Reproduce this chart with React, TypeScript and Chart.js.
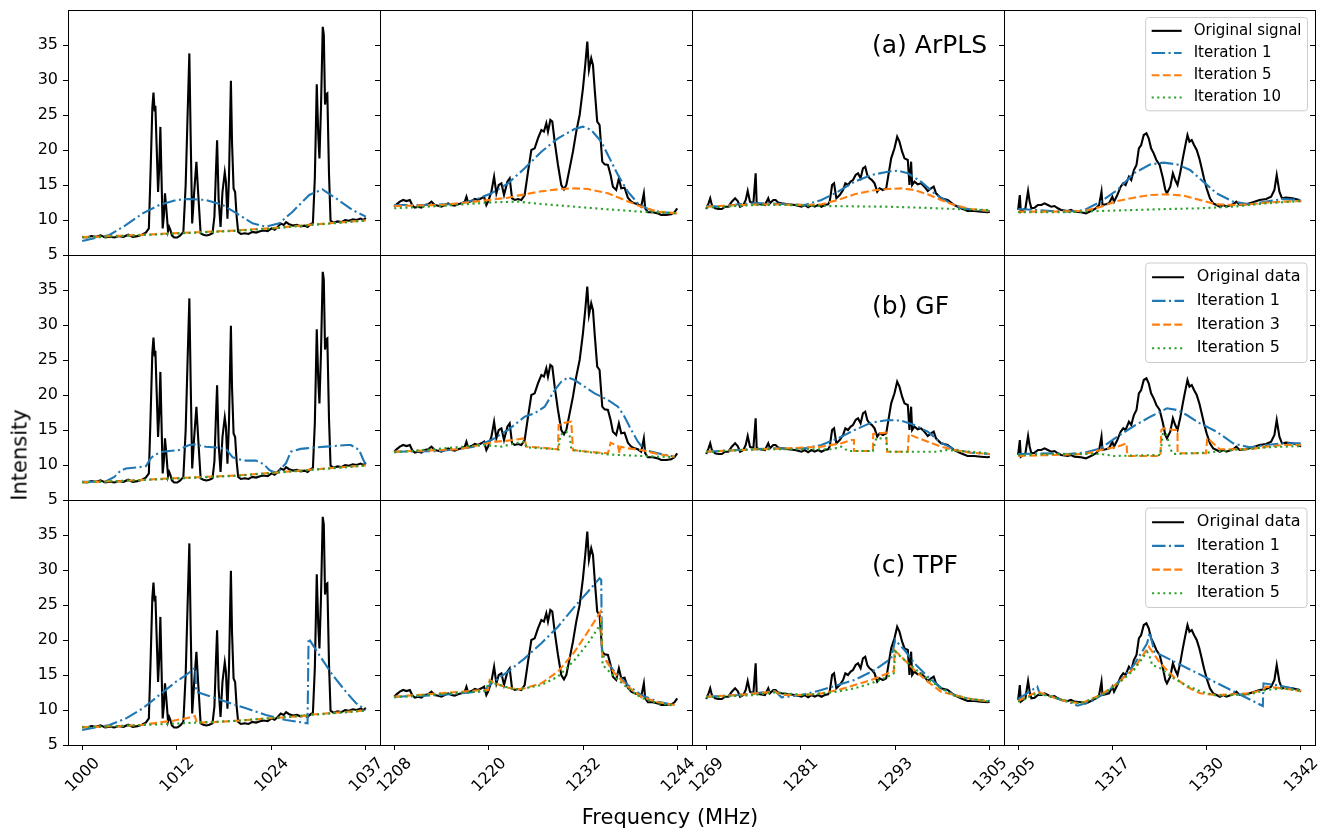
import React, { useEffect, useRef } from "react";
import { Chart, registerables } from "chart.js";

Chart.register(...registerables);

const FONT = '"DejaVu Sans", "Liberation Sans", sans-serif';

// ---------------- Original spectrum (same in every row) ----------------
const sig1F = [1000.0,1000.6,1001.2,1001.8,1002.4,1003.0,1003.6,1004.2,1004.8,1005.4,1006.0,1006.6,1007.2,1007.8,1008.3,1008.7,1008.95,1009.15,1009.3,1009.45,1009.55,1009.7,1009.9,1010.05,1010.2,1010.35,1010.5,1010.65,1010.8,1010.95,1011.2,1011.35,1011.5,1011.7,1012.0,1012.4,1012.8,1013.2,1013.5,1013.75,1013.98,1014.15,1014.35,1014.6,1014.9,1015.15,1015.45,1015.8,1016.2,1016.6,1017.0,1017.25,1017.45,1017.6,1017.8,1018.05,1018.3,1018.6,1018.75,1018.95,1019.15,1019.4,1019.55,1019.75,1019.95,1020.15,1020.35,1020.7,1021.2,1021.7,1022.2,1022.7,1023.2,1023.7,1024.2,1024.7,1025.1,1025.5,1025.9,1026.3,1026.6,1027.0,1027.5,1028.0,1028.5,1029.0,1029.4,1029.8,1030.1,1030.35,1030.6,1030.8,1030.95,1031.15,1031.38,1031.52,1031.68,1031.85,1031.98,1032.2,1032.4,1032.8,1033.3,1033.8,1034.3,1034.8,1035.3,1035.8,1036.3,1036.7,1037.0];
const sig1Y = [7.6,7.5,7.7,7.6,7.8,7.5,7.6,7.5,7.7,7.6,7.9,7.6,7.7,7.9,8.2,8.8,18.0,26.0,28.2,25.5,26.3,21.0,14.0,17.5,23.3,16.0,8.8,10.5,13.8,12.0,8.4,9.0,8.6,7.8,7.5,7.5,7.8,8.3,15.0,25.0,33.8,22.0,9.5,13.8,18.3,13.5,8.1,7.9,7.8,7.9,8.1,10.5,17.0,21.4,13.0,9.0,14.0,16.8,15.5,10.2,16.0,29.9,21.0,14.5,14.0,10.5,8.3,8.0,8.1,8.0,8.3,8.2,8.4,8.5,8.4,8.8,8.6,9.0,9.5,9.3,9.7,9.4,9.2,9.3,9.1,9.2,9.0,9.4,9.6,16.0,29.4,22.0,18.8,26.0,37.6,36.5,26.5,28.0,28.1,16.5,9.9,9.6,9.8,9.7,10.0,9.9,10.1,10.0,10.2,10.0,10.3];

const sig2F = [1208.0,1208.3,1208.72,1209.14,1209.56,1209.99,1210.28,1210.62,1211.04,1211.46,1211.89,1212.31,1212.73,1213.15,1213.58,1214.0,1214.42,1214.85,1215.27,1215.69,1216.11,1216.54,1216.96,1217.17,1217.38,1217.8,1218.23,1218.65,1219.07,1219.41,1219.7,1219.92,1220.34,1220.68,1220.97,1221.27,1221.61,1221.94,1222.37,1222.66,1222.96,1223.3,1223.72,1224.14,1224.56,1224.99,1225.41,1225.83,1226.25,1226.68,1227.01,1227.31,1227.52,1227.82,1228.07,1228.37,1228.79,1229.21,1229.55,1229.85,1230.27,1230.69,1231.11,1231.54,1231.96,1232.25,1232.51,1232.72,1233.01,1233.23,1233.44,1233.77,1234.07,1234.41,1234.71,1235.13,1235.47,1235.76,1236.18,1236.52,1236.82,1237.24,1237.66,1238.09,1238.51,1238.93,1239.35,1239.69,1239.86,1240.2,1240.83,1241.47,1241.89,1242.52,1243.16,1243.58,1243.92];
const sig2Y = [11.9,12.24,12.62,12.86,12.71,12.86,12.14,11.76,11.9,11.76,12.14,12.24,12.62,12.14,12.05,11.9,12.14,12.38,12.14,12.05,12.24,12.38,12.62,13.33,12.52,12.71,13.0,12.86,13.1,13.33,12.14,12.62,14.05,16.19,13.81,15.0,15.24,13.57,15.48,15.95,13.1,12.86,13.0,12.86,13.57,16.9,20.0,20.24,21.67,22.86,22.62,23.81,22.62,24.29,24.05,21.19,17.86,15.0,14.38,15.0,17.38,19.76,22.62,25.0,28.81,32.14,35.48,31.43,33.1,32.14,28.81,24.05,23.57,18.33,17.95,17.86,16.43,14.76,14.29,15.95,14.52,14.62,13.19,12.62,12.38,12.24,11.9,13.81,11.67,11.1,11.1,10.95,10.71,10.71,10.81,11.1,11.67];

const sig3F = [1269.0,1269.3,1269.51,1269.72,1270.14,1270.56,1270.98,1271.4,1271.82,1272.25,1272.67,1273.0,1273.3,1273.72,1274.02,1274.27,1274.56,1274.99,1275.28,1275.41,1275.83,1276.46,1276.88,1277.09,1277.52,1277.81,1278.15,1278.57,1279.41,1280.26,1281.1,1281.52,1281.94,1282.36,1282.78,1283.21,1283.63,1284.05,1284.47,1284.68,1284.98,1285.23,1285.52,1285.95,1286.37,1286.66,1287.0,1287.34,1287.63,1287.97,1288.27,1288.6,1288.9,1289.19,1289.45,1289.74,1290.04,1290.37,1290.71,1291.01,1291.43,1291.85,1292.06,1292.48,1292.9,1293.24,1293.53,1293.87,1294.17,1294.59,1294.8,1295.01,1295.14,1295.43,1295.85,1296.27,1296.7,1297.12,1297.54,1297.88,1298.17,1298.8,1299.65,1300.49,1301.33,1302.18,1303.02,1303.86,1304.71,1305.0];
const sig3Y = [11.57,12.38,13.1,12.14,11.67,11.57,11.57,11.9,11.9,12.62,13.1,12.71,11.9,12.14,12.86,14.14,12.62,12.38,16.67,12.38,12.24,12.14,13.1,12.38,12.86,12.86,12.48,12.38,12.24,12.14,11.9,12.14,11.81,12.14,11.9,12.14,11.9,12.14,12.24,12.62,15.0,15.24,13.1,13.57,14.29,15.24,15.0,15.48,15.71,16.43,16.67,15.95,17.38,17.62,16.43,15.95,15.71,15.24,14.05,14.52,14.29,14.52,15.95,18.81,20.24,21.9,21.19,19.76,18.81,18.57,15.0,18.33,15.0,15.48,15.1,15.24,14.76,14.14,14.52,14.76,13.81,13.1,12.86,12.14,11.67,11.29,11.29,11.19,11.1,11.19];

const sig4F = [1305.0,1305.22,1305.35,1305.65,1305.95,1306.3,1306.51,1306.73,1307.16,1307.6,1308.03,1308.46,1308.89,1309.33,1309.76,1310.19,1310.63,1311.49,1311.92,1312.36,1313.22,1313.87,1314.52,1315.17,1315.6,1315.91,1316.04,1316.47,1316.9,1317.33,1317.55,1317.98,1318.42,1318.76,1319.06,1319.5,1319.8,1320.15,1320.49,1320.8,1321.1,1321.44,1321.79,1322.09,1322.4,1322.74,1323.09,1323.52,1323.95,1324.26,1324.47,1324.91,1325.25,1325.56,1325.86,1326.2,1326.55,1326.85,1327.16,1327.42,1327.72,1328.02,1328.37,1328.71,1329.02,1329.32,1329.67,1330.1,1330.53,1330.97,1331.4,1331.83,1332.26,1333.13,1333.56,1333.99,1334.86,1335.73,1336.59,1337.46,1338.11,1338.54,1338.84,1339.19,1339.53,1340.05,1340.92,1341.78,1342.0];
const sig4Y = [11.43,13.57,11.19,11.43,11.67,14.14,12.62,11.67,11.76,12.14,12.14,12.38,12.14,11.9,12.0,11.67,11.43,11.29,11.43,11.19,11.1,10.95,11.29,11.67,12.14,14.05,12.14,12.24,12.38,13.33,12.62,13.57,14.76,15.24,15.0,16.19,15.71,17.14,17.86,20.24,20.71,22.14,22.38,21.67,20.24,19.52,18.57,17.86,15.95,14.29,13.81,14.76,16.67,15.71,15.0,16.67,18.81,20.48,22.14,21.19,21.43,20.71,20.0,18.81,17.38,15.95,14.52,13.1,12.38,12.14,11.9,12.14,11.9,12.24,12.62,12.14,12.24,12.52,12.86,13.0,13.33,14.29,16.43,14.05,13.1,13.19,13.1,12.86,12.62];

// ---------------- Baselines: [frequency, intensity] ----------------
// (a) ArPLS
const arplsC1It1 = [[1000,7.0],[1003.56,7.86],[1005.73,9.29],[1007.9,10.95],[1010.07,12.14],[1012.25,12.86],[1013.98,13.0],[1016.15,12.86],[1018.33,12.14],[1020.5,10.71],[1022.23,9.52],[1023.97,9.05],[1025.71,9.52],[1027.45,11.19],[1029.62,13.57],[1031.35,14.38],[1033.09,13.1],[1035.26,11.43],[1037,10.48]];
const arplsC1It5 = [[1000,7.55],[1005,7.75],[1010,8.0],[1015,8.25],[1020,8.5],[1025,8.85],[1030,9.35],[1033,9.6],[1037,9.95]];
const arplsC1It10 = [[1000,7.5],[1005,7.7],[1010,7.95],[1015,8.2],[1020,8.45],[1025,8.8],[1030,9.3],[1033,9.55],[1037,9.9]];
const arplsC2It1 = [[1208,12.14],[1211.89,12.14],[1216.11,12.29],[1218.23,12.86],[1220.34,13.81],[1222.45,15.24],[1224.56,17.38],[1226.68,19.76],[1228.79,21.67],[1230.9,23.0],[1231.96,23.33],[1233.01,22.86],[1234.28,21.19],[1235.13,19.29],[1236.4,16.43],[1237.66,14.05],[1238.93,12.38],[1240.2,11.57],[1241.89,11.1],[1243.92,10.95]];
const arplsC2It5 = [[1208,12.0],[1214,12.14],[1218.23,12.62],[1222.45,13.19],[1224.56,13.67],[1226.68,14.1],[1229.21,14.43],[1230.9,14.52],[1232.59,14.43],[1235.13,13.81],[1237.24,12.86],[1239.35,11.9],[1241.47,11.19],[1243.92,10.95]];
const arplsC2It10 = [[1208,11.67],[1214,12.0],[1220.34,12.52],[1223.72,12.62],[1226.68,12.29],[1230.9,11.9],[1235.13,11.52],[1239.35,11.19],[1243.92,10.95]];
const arplsC3It1 = [[1269,12.0],[1270.98,11.9],[1273.09,12.24],[1275.2,12.38],[1277.3,12.38],[1279.41,12.24],[1281.52,12.14],[1283.63,12.86],[1285.74,14.05],[1287.84,15.48],[1289.95,16.43],[1292.06,16.9],[1293.32,17.05],[1294.59,16.67],[1296.27,15.48],[1297.96,13.81],[1299.65,12.62],[1301.33,11.76],[1303.02,11.43],[1305,11.29]];
const arplsC3It5 = [[1269,11.9],[1273.09,12.14],[1277.3,12.24],[1281.52,12.14],[1283.63,12.24],[1285.74,12.86],[1287.84,13.67],[1289.95,14.19],[1292.06,14.43],[1293.75,14.52],[1295.43,14.29],[1297.12,13.67],[1298.8,12.86],[1300.49,12.14],[1302.6,11.57],[1305,11.29]];
const arplsC3It10 = [[1269,11.76],[1275.2,12.14],[1279.41,12.14],[1283.63,12.0],[1287.84,11.95],[1292.06,11.9],[1296.27,11.76],[1300.49,11.57],[1305,11.43]];
const arplsC4It1 = [[1305,11.57],[1307.16,11.43],[1309.33,11.29],[1311.49,11.19],[1313.66,11.43],[1315.82,12.62],[1317.98,14.29],[1320.15,16.67],[1322.31,17.95],[1324.04,18.19],[1325.77,17.95],[1327.5,17.14],[1329.23,15.48],[1330.97,13.81],[1333.13,12.62],[1335.29,12.24],[1337.46,12.62],[1339.62,13.0],[1342,12.86]];
const arplsC4It5 = [[1305,11.19],[1309.33,11.19],[1313.66,11.29],[1315.82,11.9],[1317.98,12.71],[1320.15,13.19],[1322.31,13.57],[1324.47,13.67],[1326.64,13.48],[1328.8,12.86],[1330.97,12.24],[1333.13,12.14],[1335.29,12.24],[1337.46,12.48],[1339.62,12.62],[1342,12.71]];
const arplsC4It10 = [[1305,11.1],[1311.49,11.1],[1315.82,11.29],[1320.15,11.43],[1324.47,11.57],[1328.8,11.67],[1333.13,11.9],[1337.46,12.38],[1342,12.71]];

// (b) GF
const gfC1It1 = [[1000,7.6],[1003.0,7.6],[1004.2,8.3],[1005.0,9.2],[1005.7,9.5],[1007.5,9.7],[1008.34,9.86],[1008.9,10.9],[1009.42,11.43],[1010.5,11.9],[1011.38,12.0],[1012.68,12.14],[1013.4,12.6],[1013.98,12.86],[1014.63,12.95],[1016.15,12.6],[1017.5,12.5],[1018.33,12.38],[1018.76,12.3],[1019.63,11.1],[1020.5,10.8],[1021.37,10.62],[1022.67,10.62],[1023.7,10.1],[1024.4,9.3],[1024.84,9.05],[1025.5,8.9],[1026.2,9.8],[1026.58,10.24],[1027.23,11.9],[1028.5,12.3],[1029.18,12.38],[1031.79,12.62],[1034.6,12.86],[1035.05,12.86],[1036.13,12.14],[1036.78,10.48],[1037,10.2]];
const gfC1It3 = [[1000,7.55],[1005,7.7],[1010,8.0],[1012,8.1],[1015,8.25],[1020,8.5],[1025,8.9],[1030,9.35],[1037,9.95]];
const gfC1It5 = [[1000,7.5],[1010,7.95],[1020,8.45],[1030,9.3],[1037,9.9]];
const gfC2It1 = [[1208,11.9],[1214,12.0],[1218.23,12.62],[1220.34,13.57],[1222.45,15.0],[1224.56,16.9],[1225.83,17.38],[1227.1,18.33],[1228.37,20.71],[1229.21,21.9],[1230.06,22.52],[1230.9,22.14],[1232.17,21.19],[1233.44,20.24],[1235.13,19.29],[1236.4,18.33],[1237.24,16.9],[1238.09,15.0],[1238.93,13.33],[1239.78,12.14],[1241.47,11.67],[1243.58,11.19]];
const gfC2It3 = [[1208,11.9],[1216.11,12.24],[1219.49,13.0],[1220.76,13.33],[1222.45,13.48],[1224.56,13.81],[1224.77,12.62],[1226.68,12.48],[1228.79,12.24],[1228.87,15.71],[1229.63,16.05],[1230.48,16.19],[1230.69,12.14],[1232.59,11.9],[1235.13,11.67],[1235.47,13.19],[1236.4,12.71],[1236.61,11.67],[1236.73,12.62],[1237.66,12.38],[1239.35,12.14],[1241.47,11.57],[1243.58,11.19]];
const gfC2It5 = [[1208,11.81],[1219.49,12.86],[1221.61,12.62],[1223.72,13.19],[1224.56,13.33],[1224.77,12.52],[1228.87,12.24],[1229.08,14.29],[1229.85,14.76],[1230.27,14.29],[1230.48,12.14],[1235.13,11.52],[1236.61,11.43],[1239.35,11.29],[1243.58,11.1]];
const gfC3It1 = [[1269,11.9],[1273.09,12.14],[1277.3,12.38],[1281.52,12.38],[1283.63,12.86],[1285.74,13.81],[1287.84,15.0],[1289.95,16.05],[1292.06,16.43],[1293.75,16.33],[1295.43,15.71],[1297.12,14.76],[1298.8,13.19],[1300.49,12.24],[1302.6,11.76],[1305,11.57]];
const gfC3It3 = [[1269,11.9],[1275.2,12.24],[1279.41,12.38],[1283.63,12.62],[1286.16,13.1],[1287.42,13.57],[1287.76,13.57],[1287.76,12.0],[1290.16,12.0],[1290.2,14.43],[1291.85,14.62],[1291.97,11.9],[1294.59,11.9],[1294.71,14.43],[1295.43,14.05],[1297.12,13.33],[1298.8,12.62],[1300.49,12.14],[1302.6,11.76],[1305,11.57]];
const gfC3It5 = [[1269,11.9],[1275.2,12.24],[1281.52,12.24],[1284.89,12.24],[1286.16,12.62],[1287.0,12.0],[1290.16,12.0],[1290.58,13.81],[1291.85,13.81],[1291.97,11.9],[1298.38,11.9],[1299.44,12.14],[1302.6,11.9],[1305,11.67]];
const gfC4It1 = [[1305,11.57],[1309.33,11.67],[1311.49,11.57],[1313.66,11.76],[1315.82,12.38],[1317.98,14.05],[1320.15,15.57],[1322.31,16.9],[1324.47,18.1],[1325.77,17.86],[1327.07,17.14],[1328.8,15.95],[1330.97,14.76],[1333.13,13.1],[1335.29,12.52],[1337.46,12.86],[1339.62,13.1],[1342,13.1]];
const gfC4It3 = [[1305,11.29],[1309.33,11.43],[1313.66,11.57],[1315.82,12.14],[1317.98,12.62],[1319.19,13.1],[1319.28,11.29],[1323.61,11.29],[1323.74,15.0],[1324.04,15.24],[1325.34,15.0],[1325.86,15.0],[1325.86,11.67],[1329.58,11.67],[1329.75,13.86],[1331.4,12.24],[1333.13,12.24],[1335.29,12.24],[1337.46,12.62],[1339.62,12.86],[1342,12.86]];
const gfC4It5 = [[1305,11.43],[1309.33,11.57],[1315.82,11.57],[1317.55,11.29],[1323.61,11.43],[1323.95,14.62],[1324.47,14.29],[1324.91,12.24],[1325.34,11.57],[1329.67,11.76],[1333.13,12.14],[1337.46,12.52],[1342,12.71]];

// (c) TPF
const tpfC1It1 = [[1000,7.14],[1003.56,7.86],[1005.73,8.81],[1007.9,10.24],[1010.07,12.14],[1012.25,14.05],[1013.55,15.0],[1014.77,16.05],[1014.85,12.62],[1016.15,12.14],[1018.76,11.19],[1021.37,10.24],[1023.97,9.29],[1026.58,8.57],[1029.4,8.1],[1029.53,20.24],[1030.92,17.86],[1032.66,15.0],[1034.39,12.62],[1035.7,11.0],[1037,10.0]];
const tpfC1It3 = [[1000,7.55],[1005,7.7],[1008,7.9],[1010,8.2],[1012,8.5],[1013.5,8.8],[1014.7,9.14],[1014.95,8.2],[1017,8.25],[1020,8.45],[1025,8.85],[1029.4,9.2],[1030,9.35],[1037,9.95]];
const tpfC1It5 = [[1000,7.5],[1010,7.95],[1020,8.45],[1030,9.3],[1037,9.9]];
const tpfC2It1 = [[1208,11.9],[1214,12.14],[1219.49,12.71],[1219.92,13.33],[1220.34,13.81],[1222.45,15.48],[1224.56,17.38],[1226.68,19.52],[1228.79,21.9],[1230.9,24.76],[1232.59,26.9],[1234.07,28.81],[1234.28,28.57],[1234.37,18.33],[1234.7,17.38],[1235.97,15.48],[1237.66,13.57],[1239.35,12.14],[1241.47,11.19],[1243.58,10.71]];
const tpfC2It3 = [[1208,11.9],[1219.49,12.86],[1219.92,12.86],[1220.13,14.29],[1220.76,13.81],[1222.45,13.19],[1223.72,12.95],[1224.56,13.1],[1226.68,13.81],[1228.79,15.48],[1230.9,18.33],[1232.59,21.19],[1234.2,24.05],[1234.41,17.86],[1235.97,15.24],[1237.66,13.33],[1239.35,11.9],[1241.47,11.1],[1243.58,10.71]];
const tpfC2It5 = [[1208,11.81],[1219.49,12.71],[1220.13,14.05],[1221.61,13.48],[1223.3,12.95],[1224.99,13.19],[1226.68,13.57],[1228.79,14.76],[1230.9,17.14],[1232.59,19.52],[1234.28,22.38],[1234.45,16.43],[1235.97,14.76],[1237.66,13.1],[1239.35,11.76],[1241.47,10.95],[1243.58,10.62]];
const tpfC3It1 = [[1269,11.9],[1273.09,12.14],[1277.73,12.71],[1278.57,11.81],[1281.1,12.14],[1283.63,12.86],[1287.84,14.29],[1290.37,15.71],[1292.48,17.38],[1292.99,20.0],[1294.17,18.57],[1295.43,16.67],[1297.12,14.76],[1298.8,13.19],[1300.49,12.14],[1302.6,11.52],[1305,11.29]];
const tpfC3It3 = [[1269,11.9],[1273.09,12.14],[1277.73,12.62],[1278.57,12.14],[1281.52,12.14],[1283.63,12.38],[1285.74,12.86],[1287.84,13.57],[1289.95,14.29],[1292.06,15.24],[1292.82,15.57],[1292.9,18.57],[1294.17,17.14],[1295.43,15.71],[1297.12,14.05],[1298.8,12.62],[1300.49,12.14],[1302.6,11.57],[1305,11.19]];
const tpfC3It5 = [[1269,11.81],[1275.2,12.14],[1277.73,12.52],[1281.52,12.14],[1285.74,12.62],[1287.84,13.1],[1289.95,13.81],[1292.06,14.76],[1292.82,15.24],[1292.99,18.33],[1294.17,17.14],[1295.43,15.95],[1297.12,14.43],[1298.8,13.1],[1300.49,12.05],[1302.6,11.57],[1305,11.19]];
const tpfC4It1 = [[1305,11.57],[1307.51,13.33],[1307.81,12.38],[1309.33,11.9],[1311.49,11.19],[1312.79,10.62],[1314.52,11.19],[1316.68,12.62],[1318.42,14.29],[1320.15,16.43],[1321.88,19.52],[1322.22,21.1],[1322.83,18.33],[1337.02,10.57],[1337.11,13.81],[1338.75,13.57],[1340.48,13.19],[1342,12.86]];
const tpfC4It3 = [[1305,11.29],[1307.51,12.62],[1309.33,11.9],[1311.49,11.19],[1313.22,10.95],[1315.82,12.14],[1317.98,13.81],[1320.15,15.95],[1322.09,19.05],[1323.61,16.67],[1325.34,14.76],[1327.07,13.33],[1328.8,12.38],[1330.97,12.14],[1333.13,12.24],[1335.29,12.38],[1337.02,12.86],[1337.46,13.33],[1339.62,13.1],[1342,12.71]];
const tpfC4It5 = [[1305,11.19],[1307.51,12.38],[1309.33,11.9],[1311.49,11.19],[1313.22,10.95],[1315.82,12.05],[1317.98,13.67],[1320.15,15.71],[1321.88,18.33],[1322.31,17.38],[1322.53,16.43],[1323.61,15.95],[1325.34,14.52],[1327.07,13.48],[1328.8,12.71],[1330.97,12.05],[1335.29,12.24],[1337.46,12.86],[1339.62,13.1],[1342,12.71]];

// ---------------- Ticks / labels ----------------
const yTickValues = [5, 10, 15, 20, 25, 30, 35];
const xDataRanges = [[1000, 1037], [1208, 1244], [1269, 1305], [1305, 1342]];
const xTickValues = [
  [1000, 1012.333, 1024.667, 1037],
  [1208, 1220, 1232, 1244],
  [1269, 1281, 1293, 1305],
  [1305, 1317.333, 1329.667, 1342],
];
const xTickLabels = [
  ["1000", "1012", "1024", "1037"],
  ["1208", "1220", "1232", "1244"],
  ["1269", "1281", "1293", "1305"],
  ["1305", "1317", "1330", "1342"],
];
const methodNames = ["(a) ArPLS", "(b) GF", "(c) TPF"];
const legendLabels = [
  ["Original signal", "Iteration 1", "Iteration 5", "Iteration 10"],
  ["Original data", "Iteration 1", "Iteration 3", "Iteration 5"],
  ["Original data", "Iteration 1", "Iteration 3", "Iteration 5"],
];

const sigF = [sig1F, sig2F, sig3F, sig4F];
const sigY = [sig1Y, sig2Y, sig3Y, sig4Y];
const baselines = [
  [[arplsC1It1, arplsC1It5, arplsC1It10], [arplsC2It1, arplsC2It5, arplsC2It10], [arplsC3It1, arplsC3It5, arplsC3It10], [arplsC4It1, arplsC4It5, arplsC4It10]],
  [[gfC1It1, gfC1It3, gfC1It5], [gfC2It1, gfC2It3, gfC2It5], [gfC3It1, gfC3It3, gfC3It5], [gfC4It1, gfC4It3, gfC4It5]],
  [[tpfC1It1, tpfC1It3, tpfC1It5], [tpfC2It1, tpfC2It3, tpfC2It5], [tpfC3It1, tpfC3It3, tpfC3It5], [tpfC4It1, tpfC4It3, tpfC4It5]],
];

// ---------------- Layout & style ----------------
const colLeft = [68, 380, 692, 1004];
const colRight = [380, 692, 1004, 1315];
const rowTop = [10, 255, 500];
const rowBottom = [255, 500, 745];
const PAD_L = 60, PAD_R = 5, PAD_T = 5, PAD_B = 70;
const LW = 2.1;
const seriesColors = ["#000000", "#1f77b4", "#ff7f0e", "#2ca02c"];
const seriesDash = [[], [13.5, 3.4, 2.1, 3.4], [7.8, 3.4], [2.1, 3.5]];
const legendFontSize = [15, 16, 16];
const noteYFrac = [0.85, 0.786, 0.728];
const noteXFrac = 0.577;
const TICK_FONT = 16;

function makePanel(canvas: HTMLCanvasElement, r: number, c: number) {
  const [d0, d1] = xDataRanges[c];
  const span = d1 - d0;
  const datasets: any[] = [
    {
      label: legendLabels[r][0],
      data: sigF[c].map((x, i) => ({ x, y: sigY[c][i] })),
      borderColor: seriesColors[0],
      borderWidth: LW,
      borderDash: seriesDash[0],
      pointRadius: 0,
      tension: 0,
      fill: false,
      order: 3,
    },
    ...baselines[r][c].map((pairs, k) => ({
      label: legendLabels[r][k + 1],
      data: pairs.map(([x, y]) => ({ x, y })),
      borderColor: seriesColors[k + 1],
      borderWidth: LW,
      borderDash: seriesDash[k + 1],
      pointRadius: 0,
      tension: 0,
      fill: false,
      order: 2 - k,
    })),
  ];

  const framePlugin = {
    id: "frame" + r + c,
    afterDraw(chart: any) {
      const { ctx, chartArea: a, scales } = chart;
      ctx.save();
      ctx.strokeStyle = "#000";
      ctx.lineWidth = 1;
      ctx.setLineDash([]);
      ctx.strokeRect(a.left + 0.5, a.top + 0.5, a.right - a.left, a.bottom - a.top);
      ctx.beginPath();
      for (const v of yTickValues) {
        const y = Math.round(scales.y.getPixelForValue(v)) + 0.5;
        ctx.moveTo(a.right - 5, y);
        ctx.lineTo(a.right, y);
      }
      ctx.stroke();

      if (c === 2) {
        ctx.fillStyle = "#000";
        ctx.font = `25px ${FONT}`;
        ctx.textAlign = "left";
        ctx.textBaseline = "middle";
        const x = a.left + noteXFrac * (a.right - a.left);
        const y = a.bottom - noteYFrac[r] * (a.bottom - a.top);
        ctx.fillText(methodNames[r], x, y);
      }

      if (c === 3) {
        const em = legendFontSize[r];
        ctx.font = `${em}px ${FONT}`;
        const labels = chart.data.datasets.map((d: any) => d.label);
        const textW = Math.max(...labels.map((t: string) => ctx.measureText(t).width));
        const bp = 0.4 * em, hl = 2 * em, htp = 0.8 * em, ls = 0.5 * em, th = 0.98 * em;
        const n = labels.length;
        const boxW = 2 * bp + hl + htp + textW;
        const boxH = 2 * bp + n * th + (n - 1) * ls;
        const right = a.right - 0.5 * em;
        const top = a.top + 0.5 * em;
        const left = right - boxW;
        const rad = 0.2 * em;
        ctx.beginPath();
        ctx.moveTo(left + rad, top);
        ctx.lineTo(right - rad, top);
        ctx.quadraticCurveTo(right, top, right, top + rad);
        ctx.lineTo(right, top + boxH - rad);
        ctx.quadraticCurveTo(right, top + boxH, right - rad, top + boxH);
        ctx.lineTo(left + rad, top + boxH);
        ctx.quadraticCurveTo(left, top + boxH, left, top + boxH - rad);
        ctx.lineTo(left, top + rad);
        ctx.quadraticCurveTo(left, top, left + rad, top);
        ctx.closePath();
        ctx.fillStyle = "rgba(255,255,255,0.8)";
        ctx.fill();
        ctx.strokeStyle = "#cccccc";
        ctx.lineWidth = 1;
        ctx.stroke();
        chart.data.datasets.forEach((d: any, i: number) => {
          const yc = top + bp + i * (th + ls) + th / 2;
          ctx.beginPath();
          ctx.strokeStyle = d.borderColor;
          ctx.lineWidth = LW;
          ctx.setLineDash(d.borderDash);
          ctx.moveTo(left + bp, yc);
          ctx.lineTo(left + bp + hl, yc);
          ctx.stroke();
          ctx.setLineDash([]);
          ctx.fillStyle = "#000";
          ctx.textAlign = "left";
          ctx.textBaseline = "middle";
          ctx.fillText(d.label, left + bp + hl + htp, yc);
        });
      }
      ctx.restore();
    },
  };

  return new Chart(canvas, {
    type: "line",
    data: { datasets },
    options: {
      animation: false,
      responsive: false,
      devicePixelRatio: 1,
      events: [],
      layout: { padding: { top: PAD_T, right: PAD_R, left: 0, bottom: 0 } },
      plugins: { legend: { display: false }, tooltip: { enabled: false }, title: { display: false } },
      scales: {
        x: {
          type: "linear",
          min: d0 - 0.05 * span,
          max: d1 + 0.05 * span,
          afterBuildTicks: (s: any) => {
            s.ticks = xTickValues[c].map((v) => ({ value: v }));
          },
          afterFit: (s: any) => {
            s.height = PAD_B;
            s.paddingLeft = 0;
            s.paddingRight = 0;
          },
          ticks: {
            display: r === 2,
            autoSkip: false,
            minRotation: 45,
            maxRotation: 45,
            padding: 4,
            labelOffset: 15,
            color: "#000",
            font: { family: FONT, size: TICK_FONT },
            callback: (_v: any, i: number) => xTickLabels[c][i],
          },
          grid: { display: true, drawOnChartArea: false, drawTicks: r === 2, tickLength: 5, color: "#000", lineWidth: 1 },
          border: { display: false },
        },
        y: {
          type: "linear",
          min: 5,
          max: 40,
          afterBuildTicks: (s: any) => {
            s.ticks = yTickValues.map((v) => ({ value: v }));
          },
          afterFit: (s: any) => {
            s.width = PAD_L;
            s.paddingTop = 0;
            s.paddingBottom = 0;
          },
          ticks: {
            display: c === 0,
            padding: 5,
            color: "#000",
            font: { family: FONT, size: TICK_FONT },
            callback: (v: any) => String(v),
          },
          grid: { display: true, drawOnChartArea: false, drawTicks: true, tickLength: 5, color: "#000", lineWidth: 1 },
          border: { display: false },
        },
      },
    } as any,
    plugins: [framePlugin],
  });
}

export default function App() {
  const refs = useRef<(HTMLCanvasElement | null)[]>([]);

  useEffect(() => {
    const charts: Chart[] = [];
    for (let r = 0; r < 3; r++) {
      for (let c = 0; c < 4; c++) {
        const cv = refs.current[r * 4 + c];
        if (cv) charts.push(makePanel(cv, r, c));
      }
    }
    return () => charts.forEach((ch) => ch.destroy());
  }, []);

  const canvases: React.ReactNode[] = [];
  for (let r = 0; r < 3; r++) {
    for (let c = 0; c < 4; c++) {
      const W = colRight[c] - colLeft[c] + PAD_L + PAD_R;
      const H = rowBottom[r] - rowTop[r] + PAD_T + PAD_B;
      canvases.push(
        <canvas
          key={`${r}-${c}`}
          ref={(el) => {
            refs.current[r * 4 + c] = el;
          }}
          width={W}
          height={H}
          style={{ position: "absolute", left: colLeft[c] - PAD_L, top: rowTop[r] - PAD_T, width: W, height: H }}
        />
      );
    }
  }

  return (
    <div style={{ position: "absolute", left: 0, top: 0, width: 1326, height: 829, background: "#fff", fontFamily: FONT, overflow: "hidden" }}>
      {canvases}
      <div
        style={{
          position: "absolute",
          left: 20,
          top: 455,
          transform: "translate(-50%, -50%) rotate(-90deg)",
          fontSize: 21,
          lineHeight: 1,
          whiteSpace: "nowrap",
          color: "#000",
        }}
      >
        Intensity
      </div>
      <div
        style={{
          position: "absolute",
          left: 670,
          top: 817,
          transform: "translate(-50%, -50%)",
          fontSize: 21,
          lineHeight: 1,
          whiteSpace: "nowrap",
          color: "#000",
        }}
      >
        Frequency (MHz)
      </div>
    </div>
  );
}
